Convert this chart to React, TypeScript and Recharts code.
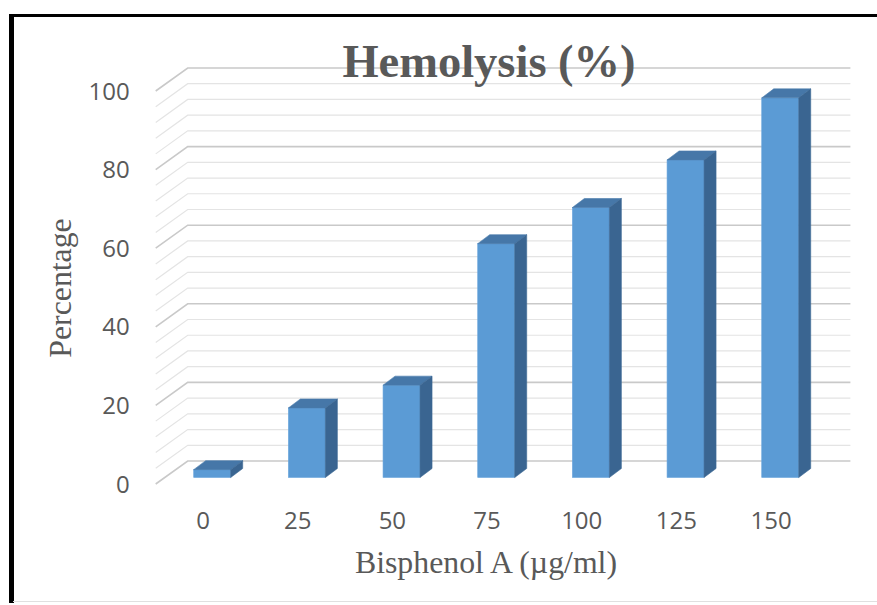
import React from 'react';
import { BarChart, Bar, XAxis, YAxis, CartesianGrid } from 'recharts';

const categories = ['0', '25', '50', '75', '100', '125', '150'];
const hemolysis = [2, 17.7, 23.5, 59.5, 68.7, 80.8, 96.6];
const yGridTicks = [0, 4, 8, 12, 16, 20, 24, 28, 32, 36, 40, 44, 48, 52, 56, 60, 64, 68, 72, 76, 80, 84, 88, 92, 96, 100];
const yLabelTicks = [0, 20, 40, 60, 80, 100];

const data = categories.map((c, i) => ({ dose: c, value: hemolysis[i] }));

const W = 877;
const H = 605;
const WALL_DX = 32;
const WALL_DY = -23;
const BAR_DX = 9;
const BAR_DY = -6.5;
const DEPTH_X = 12;
const DEPTH_Y = -9;
const TEXT = '#595959';

const Bar3D = (props: any) => {
  const { x, y, width, height } = props;
  if (x == null || y == null) return null;
  const fx = x + BAR_DX;
  const fy = y + BAR_DY;
  const w = width;
  const h = height;
  const top = `${fx},${fy} ${fx + w},${fy} ${fx + w + DEPTH_X},${fy + DEPTH_Y} ${fx + DEPTH_X},${fy + DEPTH_Y}`;
  const side = `${fx + w},${fy} ${fx + w + DEPTH_X},${fy + DEPTH_Y} ${fx + w + DEPTH_X},${fy + h + DEPTH_Y} ${fx + w},${fy + h}`;
  return (
    <g>
      <rect x={fx} y={fy} width={w} height={h} fill="#5B9BD5" stroke="#6aa5dc" strokeWidth={0.6} />
      <polygon points={top} fill="#4677A8" stroke="#4a7cad" strokeWidth={0.6} />
      <polygon points={side} fill="#3A6591" stroke="#3e6a96" strokeWidth={0.6} />
    </g>
  );
};

const gridLine = (props: any) => {
  const { x1, y1, x2, index } = props;
  const major = index % 5 === 0;
  const d = `M${x1},${y1} L${x1 + WALL_DX},${y1 + WALL_DY} L${x2 + WALL_DX},${y1 + WALL_DY}`;
  return (
    <path
      key={`grid-${index}`}
      d={d}
      fill="none"
      stroke={major ? '#c9c9c9' : '#e4e4e4'}
      strokeWidth={major ? 1.6 : 1.2}
    />
  );
};

export default function App() {
  return (
    <div style={{ position: 'absolute', left: 0, top: 0, width: W, height: H, background: '#fff' }}>
      <BarChart
        width={W}
        height={H}
        data={data}
        margin={{ top: 91, right: 58.6, bottom: 0, left: 0 }}
        barSize={37}
      >
        <CartesianGrid vertical={false} horizontal={gridLine} />
        <XAxis
          dataKey="dose"
          height={121}
          axisLine={false}
          tickLine={false}
          tickSize={0}
          tickMargin={28}
          interval={0}
          tick={{ fill: TEXT, fontSize: 24, fontFamily: 'Open Sans' }}
        />
        <YAxis
          width={155.7}
          domain={[0, 100]}
          ticks={yGridTicks}
          interval={0}
          axisLine={false}
          tickLine={false}
          tickSize={0}
          tickMargin={26}
          tickFormatter={(v: number) => (yLabelTicks.includes(v) ? String(v) : '')}
          tick={{ fill: TEXT, fontSize: 24, fontFamily: 'Open Sans' }}
        />
        <Bar dataKey="value" shape={Bar3D} isAnimationActive={false} />
      </BarChart>
      <svg width={W} height={H} style={{ position: 'absolute', left: 0, top: 0, pointerEvents: 'none' }}>
        <text x={489} y={77} textAnchor="middle" fontFamily="Liberation Serif" fontWeight="bold" fontSize={46.5} fill={TEXT}>
          Hemolysis (%)
        </text>
        <text x={486} y={573} textAnchor="middle" fontFamily="Liberation Serif" fontSize={31.8} fill={TEXT}>
          Bisphenol A (µg/ml)
        </text>
        <text
          x={71}
          y={288}
          textAnchor="middle"
          fontFamily="Liberation Serif"
          fontSize={31.8}
          fill={TEXT}
          transform="rotate(-90 71 288)"
        >
          Percentage
        </text>
      </svg>
      <div style={{ position: 'absolute', left: 9, top: 14, width: W - 9, height: 2.5, background: '#000' }} />
      <div style={{ position: 'absolute', left: 9, top: 14, width: 4.5, height: 589, background: '#000' }} />
      <div style={{ position: 'absolute', left: 13, top: 601, width: W - 13, height: 1, background: '#e0e0e0' }} />
    </div>
  );
}
